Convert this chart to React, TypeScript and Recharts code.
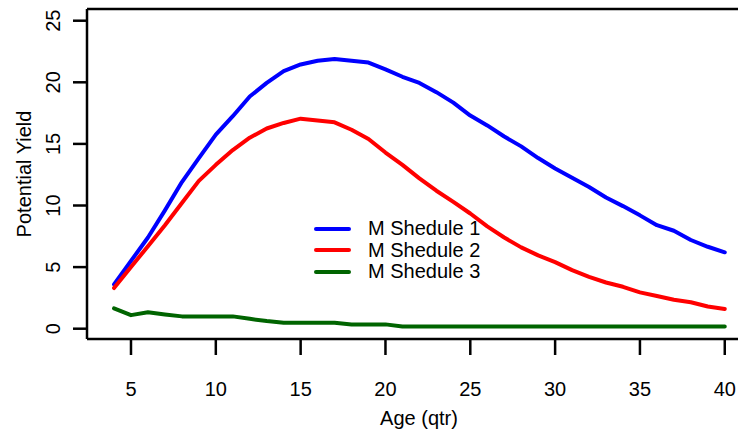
import React from 'react';
import { LineChart, Line, XAxis, YAxis, Legend, ReferenceLine } from 'recharts';

// age in quarters
const ages = [
  4, 5, 6, 7, 8, 9, 10, 11, 12, 13, 14, 15, 16, 17, 18, 19, 20, 21, 22,
  23, 24, 25, 26, 27, 28, 29, 30, 31, 32, 33, 34, 35, 36, 37, 38, 39, 40,
];

const schedule1 = [
  3.6, 5.5, 7.4, 9.6, 11.9, 13.85, 15.75, 17.25, 18.85, 19.95, 20.9, 21.45,
  21.75, 21.9, 21.75, 21.6, 21.05, 20.45, 19.95, 19.2, 18.35, 17.3, 16.5,
  15.6, 14.8, 13.85, 13.0, 12.25, 11.5, 10.65, 9.95, 9.2, 8.4, 7.95, 7.2,
  6.65, 6.2,
];

const schedule2 = [
  3.3, 5.0, 6.7, 8.4, 10.2, 12.0, 13.3, 14.5, 15.5, 16.25, 16.7, 17.05,
  16.9, 16.75, 16.15, 15.4, 14.3, 13.3, 12.2, 11.2, 10.3, 9.35, 8.3, 7.4,
  6.6, 5.95, 5.4, 4.75, 4.2, 3.75, 3.4, 2.95, 2.65, 2.35, 2.15, 1.8, 1.6,
];

const schedule3 = [
  1.65, 1.1, 1.33, 1.15, 1.0, 1.0, 1.0, 1.0, 0.8, 0.62, 0.48, 0.48, 0.48,
  0.48, 0.35, 0.35, 0.35, 0.18, 0.18, 0.18, 0.18, 0.18, 0.18, 0.18, 0.18,
  0.18, 0.18, 0.18, 0.18, 0.18, 0.18, 0.18, 0.18, 0.18, 0.18, 0.18, 0.18,
];

const seriesNames = ['M Shedule 1', 'M Shedule 2', 'M Shedule 3'];
const seriesColors = ['#0000ff', '#ff0000', '#006400'];

const xTicks = [5, 10, 15, 20, 25, 30, 35, 40];
const yTicks = [0, 5, 10, 15, 20, 25];

const data = ages.map((age, i) => ({
  age,
  s1: schedule1[i],
  s2: schedule2[i],
  s3: schedule3[i],
}));

const FONT = 'Arial, "Liberation Sans", Helvetica, sans-serif';
const X_DOMAIN = [2.407, 40.78];
const Y_DOMAIN = [-0.836, 25.95];

const XTick = ({ x, y, payload }: any) => (
  <text x={x} y={y + 32} textAnchor="middle" dominantBaseline="central"
    fill="#000" fontSize={20} fontFamily={FONT}>
    {payload.value}
  </text>
);

const YTick = ({ x, y, payload }: any) => {
  const cx = x - 18;
  return (
    <text x={cx} y={y} transform={`rotate(-90, ${cx}, ${y})`} textAnchor="middle"
      dominantBaseline="central" fill="#000" fontSize={20} fontFamily={FONT}>
      {payload.value}
    </text>
  );
};

const renderLegend = () => (
  <div style={{ fontFamily: FONT, fontSize: 20, color: '#000' }}>
    {seriesNames.map((name, i) => (
      <div key={name} style={{ display: 'flex', alignItems: 'center', height: 21.6 }}>
        <svg width={37} height={8} style={{ display: 'block' }}>
          <line x1={2} x2={35} y1={4} y2={4} stroke={seriesColors[i]}
            strokeWidth={4} strokeLinecap="round" />
        </svg>
        <span style={{ marginLeft: 17, whiteSpace: 'nowrap', lineHeight: '21.6px' }}>{name}</span>
      </div>
    ))}
  </div>
);

export default function App() {
  const axisStroke = { stroke: '#000', strokeWidth: 2.5 };
  return (
    <div style={{ position: 'absolute', left: 0, top: 0, width: 738, height: 432, background: '#fff' }}>
      <LineChart width={738} height={432} data={data}
        margin={{ top: 9, right: 0, bottom: 0, left: 0 }}>
        <XAxis dataKey="age" type="number" domain={X_DOMAIN} ticks={xTicks}
          allowDataOverflow height={93} tickSize={16} tick={<XTick />}
          axisLine={axisStroke} tickLine={axisStroke}
          label={{
            content: ({ viewBox }: any) => (
              <text x={viewBox.x + viewBox.width * 0.51} y={viewBox.y + 79}
                textAnchor="middle" dominantBaseline="central" fill="#000"
                fontSize={20} fontFamily={FONT}>Age (qtr)</text>
            ),
          }} />
        <YAxis type="number" domain={Y_DOMAIN} ticks={yTicks} allowDataOverflow
          width={87} tickSize={14} tick={<YTick />}
          axisLine={axisStroke} tickLine={axisStroke}
          label={{
            content: ({ viewBox }: any) => {
              const cx = 24;
              const cy = viewBox.y + viewBox.height / 2;
              return (
                <text x={cx} y={cy} transform={`rotate(-90, ${cx}, ${cy})`}
                  textAnchor="middle" dominantBaseline="central" fill="#000"
                  fontSize={20} fontFamily={FONT}>Potential Yield</text>
              );
            },
          }} />
        {/* top side of the plot box */}
        <ReferenceLine y={Y_DOMAIN[1]} stroke="#000" strokeWidth={2.5} ifOverflow="visible" />
        <Legend layout="vertical" align="center" verticalAlign="middle"
          content={renderLegend}
          wrapperStyle={{ position: 'absolute', left: 314, top: 218, width: 200 }} />
        {['s1', 's2', 's3'].map((key, i) => (
          <Line key={key} dataKey={key} name={seriesNames[i]} type="linear"
            stroke={seriesColors[i]} strokeWidth={4} dot={false}
            strokeLinecap="round" strokeLinejoin="round" isAnimationActive={false} />
        ))}
      </LineChart>
    </div>
  );
}
